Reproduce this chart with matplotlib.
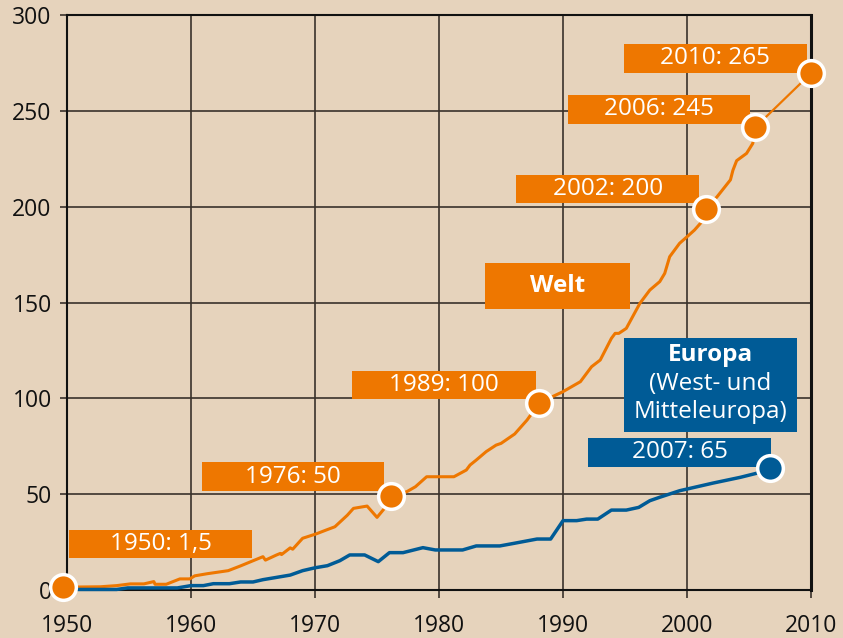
"""
Weltweite und europäische Entwicklung 1950-2010: Linienchart mit beschrifteten Eckwerten.
"""

import matplotlib.pyplot as plt
from matplotlib.patches import Rectangle

BG = "#E6D3BC"
ORANGE = "#EE7700"
BLUE = "#005B96"
GRID = "#3A322B"

# Welt (orange Linie)
welt_years = [1950, 1952.7, 1954.0, 1955.1, 1956.2, 1957.0, 1957.1, 1958.0, 1959.1, 1959.9,
              1960.3, 1961.3, 1963.0, 1964.0, 1965.8, 1966.0, 1966.9, 1967.2, 1967.3, 1968.0,
              1968.2, 1969.0, 1970.1, 1970.9, 1971.6, 1972.6, 1973.1, 1974.2, 1975.0, 1975.6,
              1976.1, 1977.4, 1978.1, 1979.0, 1981.2, 1982.2, 1982.5, 1983.0, 1983.8, 1984.6,
              1985.0, 1986.1, 1987.1, 1988.1, 1990.0, 1991.4, 1992.3, 1993.0, 1993.9, 1994.2,
              1994.5, 1995.1, 1996.2, 1997.0, 1997.8, 1998.2, 1998.6, 1999.4, 2000.0, 2000.6,
              2001.2, 2001.5, 2002.4, 2003.5, 2003.7, 2004.0, 2004.8, 2005.3, 2005.5]
welt_values = [1.5, 1.7, 2.3, 3.2, 3.2, 4.4, 3.0, 3.0, 5.8, 5.8,
               7.4, 8.5, 10.1, 12.6, 17.4, 15.6, 18.3, 19.1, 18.5, 22.0,
               21.3, 27.0, 29.3, 31.3, 33.0, 39.0, 42.6, 43.8, 37.9, 42.6,
               49.0, 51.3, 53.9, 59.1, 59.1, 62.6, 65.2, 67.8, 72.2, 75.6,
               76.5, 81.4, 88.7, 97.7, 103.5, 108.7, 116.5, 120.0, 131.3, 133.9,
               133.9, 136.5, 149.6, 156.5, 160.9, 165.2, 173.9, 180.9, 184.3, 187.8,
               192.2, 199.0, 205.0, 214.0, 219.0, 224.0, 227.8, 233.0, 241.4]
# letzter Abschnitt 2006 -> 2010 (dünner gezeichnet)
welt_tail_years = [2005.5, 2010.0]
welt_tail_values = [241.4, 269.6]

# Europa (blaue Linie)
europa_years = [1950, 1954.0, 1954.9, 1958.9, 1960.0, 1961.0, 1961.8, 1963.1, 1964.0, 1965.0,
                1965.8, 1968.0, 1969.0, 1970.0, 1971.0, 1972.0, 1972.8, 1974.0, 1975.1, 1976.0,
                1977.1, 1978.7, 1979.7, 1981.9, 1983.0, 1984.9, 1986.0, 1987.9, 1989.0, 1990.0,
                1991.1, 1991.9, 1992.8, 1993.9, 1995.1, 1996.1, 1997.0, 1997.8, 1999.4, 2002.1,
                2004.3, 2005.6, 2006.7]
europa_values = [0.3, 0.3, 1.1, 1.1, 2.3, 2.3, 3.3, 3.3, 4.2, 4.2,
                 5.4, 7.8, 10.1, 11.6, 12.7, 15.3, 18.3, 18.3, 14.8, 19.5,
                 19.5, 22.1, 20.9, 20.9, 23.0, 23.0, 24.3, 26.6, 26.6, 36.2,
                 36.2, 37.0, 37.0, 41.7, 41.7, 43.1, 46.6, 48.4, 51.8, 55.8,
                 58.8, 60.9, 63.8]

# hervorgehobene Punkte
welt_marker_years = [1949.7, 1976.1, 1988.1, 2001.5, 2005.5, 2010.0]
welt_marker_values = [1.5, 49.0, 97.7, 199.0, 241.4, 269.6]
welt_marker_labels = ["1950: 1,5", "1976: 50", "1989: 100", "2002: 200", "2006: 245", "2010: 265"]
europa_marker_years = [2006.7]
europa_marker_values = [63.8]
europa_marker_labels = ["2007: 65"]

x_ticks = [1950, 1960, 1970, 1980, 1990, 2000, 2010]
y_ticks = [0, 50, 100, 150, 200, 250, 300]

# Kästen (x0, x1, y0, y1) in Datenkoordinaten
welt_boxes = [
    (1950.2, 1964.9, 16.7, 31.3),
    (1960.9, 1975.6, 51.8, 66.6),
    (1973.0, 1987.8, 99.5, 114.3),
    (1986.2, 2001.0, 201.8, 216.5),
    (1990.4, 2005.1, 243.3, 258.3),
    (1994.9, 2009.65, 269.9, 284.9),
]
europa_boxes = [(1992.0, 2006.8, 64.3, 79.3)]

plt.rcParams["font.family"] = ["Open Sans", "DejaVu Sans"]

fig = plt.figure(figsize=(8.43, 6.38), dpi=100, facecolor=BG)
ax = fig.add_axes([0.0795, 0.0752, 0.8826, 0.9013])
ax.set_facecolor(BG)

ax.set_xlim(1950, 2010)
ax.set_ylim(0, 300)
ax.set_xticks(x_ticks)
ax.set_yticks(y_ticks)
ax.tick_params(axis="both", direction="out", color=GRID, labelsize=16.5, labelcolor="#111111")
ax.tick_params(axis="x", length=6, width=1.2, pad=11)
ax.tick_params(axis="y", length=5, width=1.2, pad=6)
ax.grid(True, color=GRID, linewidth=1.2, zorder=0)
ax.set_axisbelow(True)
for side in ["left", "right", "top", "bottom"]:
    ax.spines[side].set_color("#111111")
    ax.spines[side].set_linewidth(1.5)
ax.spines["right"].set_linewidth(2.2)

ax.plot(welt_years, welt_values, color=ORANGE, linewidth=2.2, zorder=3, clip_on=False)
ax.plot(welt_tail_years, welt_tail_values, color=ORANGE, linewidth=1.6, zorder=3, clip_on=False)
ax.plot(europa_years, europa_values, color=BLUE, linewidth=2.5, zorder=3, clip_on=False)


def draw_boxes(boxes, labels, color):
    for (x0, x1, y0, y1), text in zip(boxes, labels):
        ax.add_patch(Rectangle((x0, y0), x1 - x0, y1 - y0, facecolor=color,
                               edgecolor="none", zorder=4))
        ax.text((x0 + x1) / 2, (y0 + y1) / 2, text, color="white", fontsize=17.5,
                ha="center", va="center", zorder=5)


draw_boxes(welt_boxes, welt_marker_labels, ORANGE)
draw_boxes(europa_boxes, europa_marker_labels, BLUE)

# Serien-Beschriftungen
ax.add_patch(Rectangle((1983.7, 146.6), 11.7, 24.0, facecolor=ORANGE, edgecolor="none", zorder=4))
ax.text(1989.55, 158.6, "Welt", color="white", fontsize=17.5, fontweight="bold",
        ha="center", va="center", zorder=5)

ax.add_patch(Rectangle((1994.9, 82.6), 13.95, 48.9, facecolor=BLUE, edgecolor="none", zorder=4))
ax.text(2001.9, 122.6, "Europa", color="white", fontsize=17.5, fontweight="bold",
        ha="center", va="center", zorder=5)
ax.text(2001.9, 107.5, "(West- und", color="white", fontsize=17.5,
        ha="center", va="center", zorder=5)
ax.text(2001.9, 93.0, "Mitteleuropa)", color="white", fontsize=17.5,
        ha="center", va="center", zorder=5)

ax.plot(welt_marker_years, welt_marker_values, linestyle="none", marker="o", markersize=18.5,
        markerfacecolor=ORANGE, markeredgecolor="white", markeredgewidth=2.5,
        zorder=6, clip_on=False)
ax.plot(europa_marker_years, europa_marker_values, linestyle="none", marker="o", markersize=18.5,
        markerfacecolor=BLUE, markeredgecolor="white", markeredgewidth=2.5,
        zorder=6, clip_on=False)

fig.savefig("out.png", dpi=100, facecolor=BG)
